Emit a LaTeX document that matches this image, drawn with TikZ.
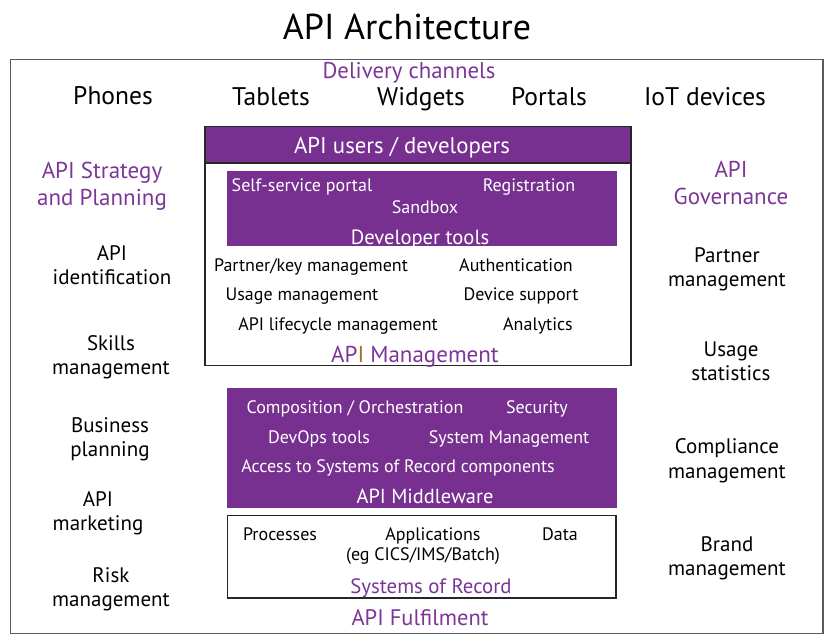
\documentclass[tikz,border=0pt]{standalone}
\usepackage{fontspec}
\setmainfont{PT Sans}
\definecolor{purp}{RGB}{119,48,143}
\definecolor{ptext}{RGB}{124,54,152}
\definecolor{goldI}{RGB}{165,110,30}
\definecolor{frame}{RGB}{90,90,90}
\begin{document}
\begin{tikzpicture}[x=1pt,y=-1pt,
  every node/.style={inner sep=0pt, outer sep=0pt, anchor=base, align=center},
  side/.style={font=\fontsize{21}{24.5}\selectfont},
  sidep/.style={font=\fontsize{23}{27.5}\selectfont, text=ptext},
  chan/.style={font=\fontsize{25.5}{28}\selectfont},
  small/.style={font=\fontsize{18}{20}\selectfont},
  smallw/.style={small, text=white},
  headp/.style={font=\fontsize{23}{26}\selectfont, text=ptext},
  headw/.style={font=\fontsize{20.6}{24}\selectfont, text=white},
  pbox/.style={fill=purp, draw=none},
  wbox/.style={draw=black!85, line width=1.1pt, fill=white}]
\useasboundingbox (0,0) rectangle (825,642);
% outer frame
\draw[frame, line width=1.8pt] (10.5,59.5) rectangle (823,633.5);
% title
\node[font=\fontsize{36}{40}\selectfont] (title) at (407,40) {API Architecture};
% delivery channels
\node[font=\fontsize{22.8}{26}\selectfont, text=ptext] (dc) at (409,79) {Delivery channels};
\node[chan] (phones) at (113,104) {Phones};
\node[chan] (tablets) at (271,105) {Tablets};
\node[chan] (widgets) at (421,105) {Widgets};
\node[chan] (portals) at (549,105) {Portals};
\node[chan] (iot) at (705,105) {IoT devices};
% left column (base = last line)
\node[sidep] (strat) at (102,205.5) {API Strategy\\and Planning};
\node[side] (ident) at (112,284.5) {API\\identification};
\node[side] (skills) at (111,374.5) {Skills\\management};
\node[side] (biz) at (110,456.5) {Business\\planning};
\node[side] (mkt) at (98,530.5) {API\\marketing};
\node[side] (risk) at (111,606.5) {Risk\\management};
% right column
\node[sidep] (gov) at (731,204.5) {API\\Governance};
\node[side] (partner) at (727,286.5) {Partner\\management};
\node[side] (usage) at (731,380.5) {Usage\\statistics};
\node[side] (comp) at (727,478) {Compliance\\management};
\node[side] (brand) at (727,575.5) {Brand\\management};
% API management box
\draw[wbox] (205,126.5) rectangle (631,365.5);
\draw[wbox, fill=purp] (205,126.5) rectangle (631,163);
\node[font=\fontsize{22.8}{26}\selectfont, text=white] (users) at (402,153) {API users / developers};
\fill[pbox] (227,171) rectangle (617,246);
\node[smallw] (self) at (302,191) {Self-service portal};
\node[smallw] (reg) at (529,191) {Registration};
\node[smallw] (sand) at (425,213) {Sandbox};
\node[headw] (devtools) at (420,244) {Developer tools};
\node[small] (pkm) at (311,271) {Partner/key management};
\node[small] (auth) at (516,271) {Authentication};
\node[small] (um) at (302,300) {Usage management};
\node[small] (dev) at (521,300) {Device support};
\node[small] (life) at (338,330) {API lifecycle management};
\node[small] (anal) at (538,330) {Analytics};
\node[headp] (apim) at (415,362) {AP\textcolor{goldI}{I} Management};
% middleware
\fill[pbox] (227,387.5) rectangle (617,508);
\node[smallw] (compo) at (355,413) {Composition / Orchestration};
\node[smallw] (sec) at (537,413) {Security};
\node[smallw] (devops) at (319,443) {DevOps tools};
\node[smallw] (sysm) at (509,443) {System Management};
\node[smallw] (access) at (398,472) {Access to Systems of Record components};
\node[headw, font=\fontsize{20.4}{24}\selectfont] (mid) at (425,503) {API Middleware};
% systems of record
\draw[wbox] (227.5,515.5) rectangle (616,598);
\node[small] (proc) at (280,540) {Processes};
\node[small] (apps) at (433,540) {Applications};
\node[small] (eg) at (423,560) {(eg CICS/IMS/Batch)};
\node[small] (data) at (560,540) {Data};
\node[font=\fontsize{20.8}{24}\selectfont, text=ptext] (sor) at (431,593) {Systems of Record};
\node[font=\fontsize{22.5}{26}\selectfont, text=ptext] (ful) at (420,625) {API Fulfilment};
\end{tikzpicture}
\end{document}
